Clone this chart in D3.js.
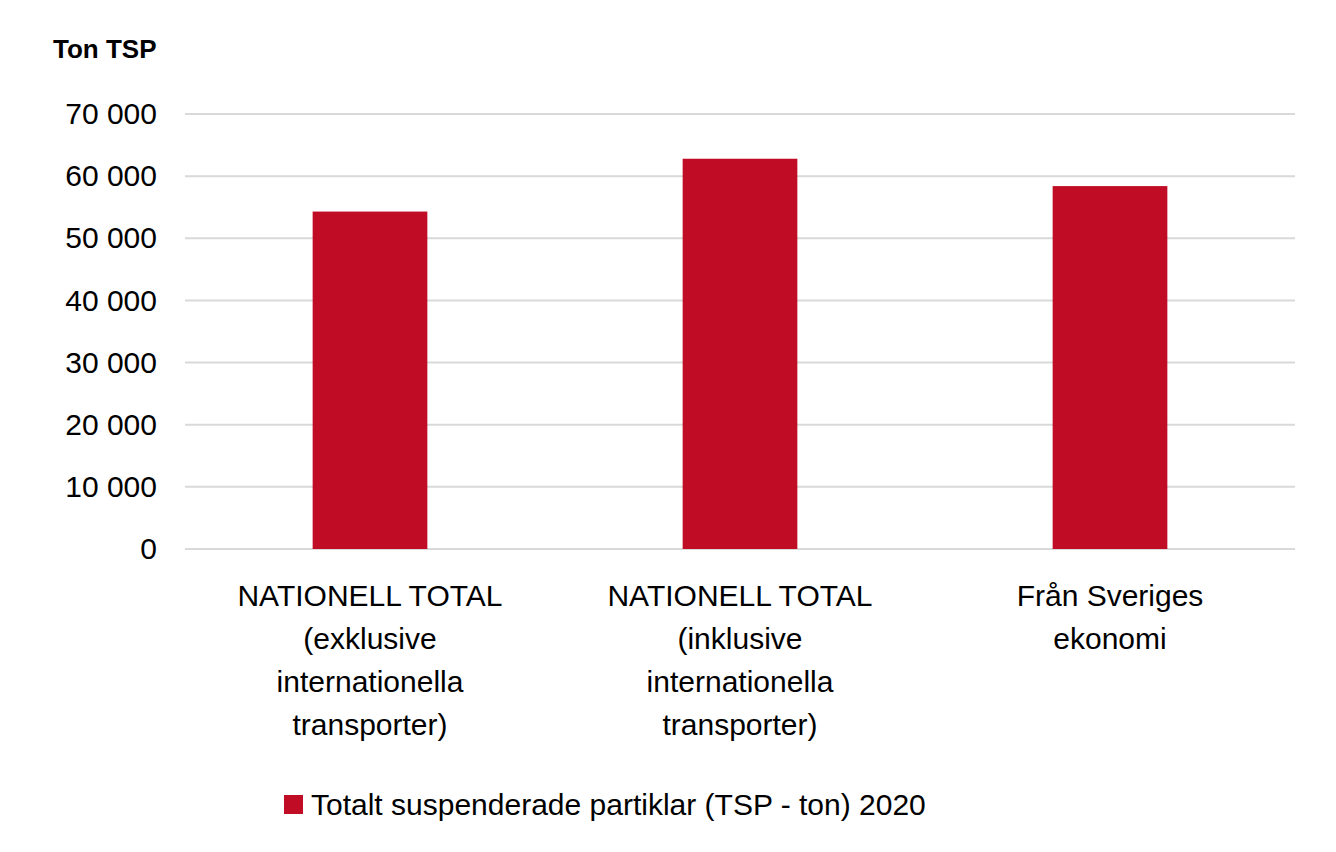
<!DOCTYPE html>
<html>
<head>
<meta charset="utf-8">
<script src="https://cdn.jsdelivr.net/npm/d3@7"></script>
<style>
body { margin: 0; background: #fff; }
text { font-family: "Liberation Sans", Arial, sans-serif; }
</style>
</head>
<body>
<svg width="1336" height="852"></svg>
<script>
let categories = [
    ['NATIONELL TOTAL', '(exklusive', 'internationella', 'transporter)'],
    ['NATIONELL TOTAL', '(inklusive', 'internationella', 'transporter)'],
    ['Från Sveriges', 'ekonomi']
];
let values = [54300, 62800, 58400];
let yTicks = [0, 10000, 20000, 30000, 40000, 50000, 60000, 70000];
let seriesName = 'Totalt suspenderade partiklar (TSP - ton) 2020';
let unitLabel = 'Ton TSP';

let svg = d3.select('svg');
let padding = { t: 114, r: 41, b: 303, l: 185 };
let chartWidth = 1336 - padding.l - padding.r;
let chartHeight = 852 - padding.t - padding.b;
let color = '#c00c24';

let chartG = svg.append('g')
    .attr('transform', 'translate(' + [padding.l, padding.t] + ')');

let xScale = d3.scaleBand()
    .domain(d3.range(categories.length))
    .range([0, chartWidth])
    .paddingInner(0.69)
    .paddingOuter(0.345);

let yScale = d3.scaleLinear()
    .domain([0, 70000])
    .range([chartHeight, 0]);

let fmt = d => d3.format(',')(d).replace(',', ' ');

// gridlines
chartG.selectAll('.grid').data(yTicks).enter().append('line')
    .attr('x1', 0).attr('x2', chartWidth)
    .attr('y1', d => yScale(d)).attr('y2', d => yScale(d))
    .attr('stroke', '#d9d9d9').attr('stroke-width', 2);

// y axis labels
let yAxis = d3.axisLeft(yScale).tickValues(yTicks).tickFormat(fmt).tickSize(0).tickPadding(28);
chartG.append('g').call(yAxis)
    .call(g => g.select('.domain').remove())
    .selectAll('text')
    .attr('font-size', '30px').attr('fill', '#000')
    .style('font-family', '"Liberation Sans", Arial, sans-serif');

// bars
chartG.selectAll('.bar').data(values).enter().append('rect')
    .attr('class', 'bar')
    .attr('x', (d, i) => xScale(i))
    .attr('y', d => yScale(d))
    .attr('width', xScale.bandwidth())
    .attr('height', d => chartHeight - yScale(d))
    .attr('fill', color);

// category labels
categories.forEach((lines, i) => {
    let t = chartG.append('text')
        .attr('x', xScale(i) + xScale.bandwidth() / 2)
        .attr('y', chartHeight + 57)
        .attr('text-anchor', 'middle')
        .attr('font-size', '30px');
    lines.forEach((l, j) => {
        t.append('tspan')
            .attr('x', xScale(i) + xScale.bandwidth() / 2)
            .attr('dy', j === 0 ? 0 : 43)
            .text(l);
    });
});

// unit label
svg.append('text')
    .attr('x', 53).attr('y', 58)
    .attr('font-size', '26px').attr('font-weight', 700)
    .text(unitLabel);

// legend
svg.append('rect')
    .attr('x', 284).attr('y', 795).attr('width', 19).attr('height', 19)
    .attr('fill', color);
svg.append('text')
    .attr('x', 311).attr('y', 815)
    .attr('font-size', '30px')
    .text(seriesName);
</script>
</body>
</html>
